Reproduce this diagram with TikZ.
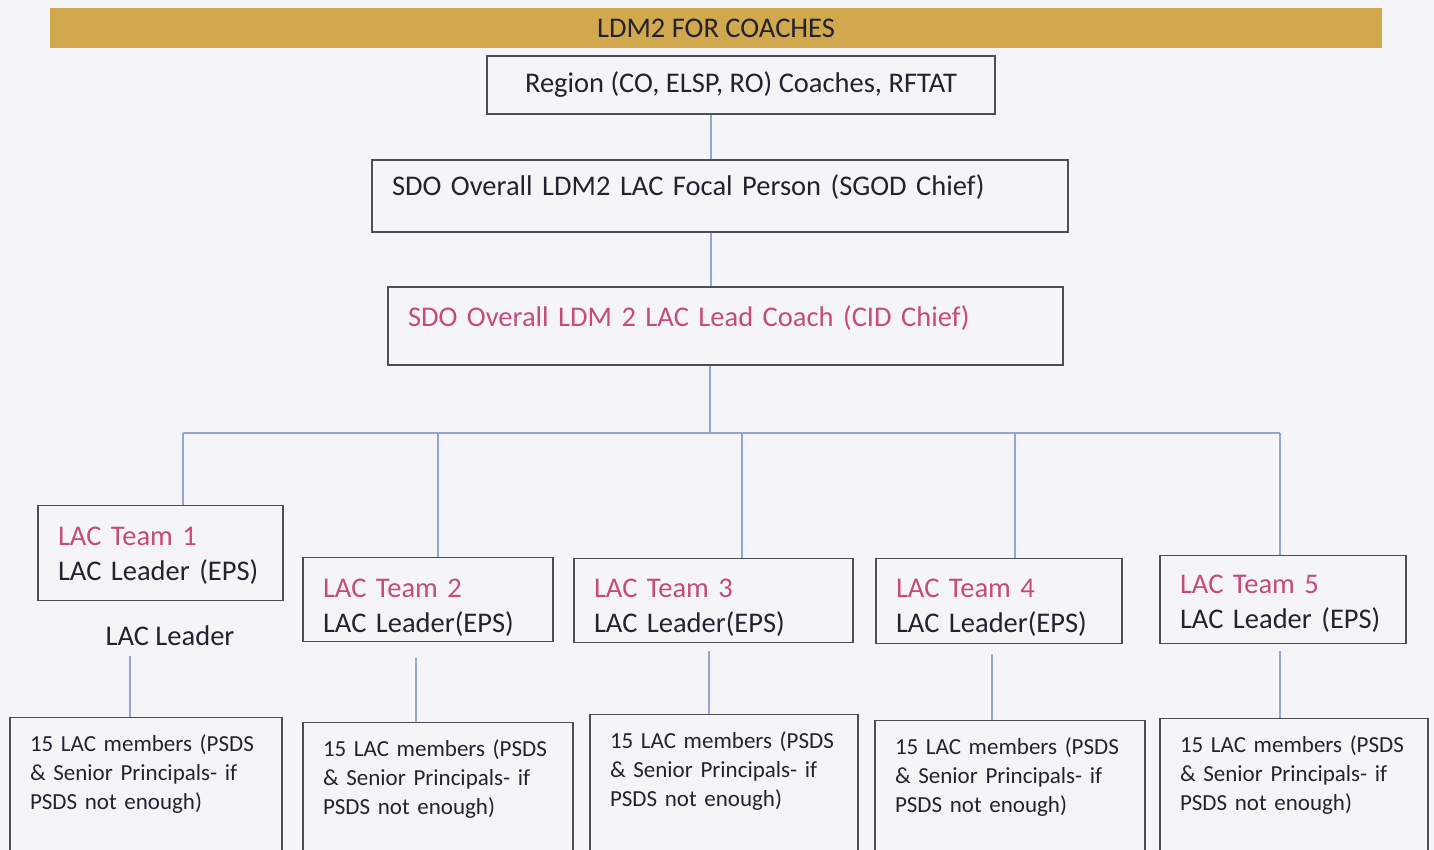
\documentclass[tikz,border=0pt]{standalone}
\usepackage{fontspec}
\setmainfont{Carlito}
\usepackage{tikz}
\definecolor{goldbar}{HTML}{D2A84E}
\definecolor{rosetext}{HTML}{C64A7C}
\definecolor{inktext}{HTML}{23232F}
\definecolor{boxline}{HTML}{4D4D57}
\definecolor{linkblue}{HTML}{97A4D0}
\definecolor{paper}{HTML}{F5F5F8}

\begin{document}
\begin{tikzpicture}[x=1pt, y=-1pt,
  every node/.style={font=\fontsize{28.5}{35}\selectfont, text=inktext},
  box/.style={draw=boxline, line width=1.3pt, inner xsep=20pt},
  wide/.style={box, align=left, inner ysep=0pt, text height=#1, text depth=#1},
  team/.style={box, align=left, anchor=north, inner ysep=0pt},
  member/.style={box, align=left, anchor=north, inner ysep=0pt, text height=34pt, text depth=150pt, font=\fontsize{23}{29}\selectfont},
  link/.style={draw=linkblue, line width=1.1pt}]
  \useasboundingbox (0,0) rectangle (1434,850);
  \clip (0,0) rectangle (1434,850);
  \fill[paper] (0,0) rectangle (1434,850);

  \node[fill=goldbar, minimum width=1332pt, minimum height=40pt, inner sep=0pt] at (716,28) (head) {LDM2 FOR COACHES};

  \node[box, minimum width=508pt, minimum height=58pt] at (741,85) (region) {Region (CO, ELSP, RO) Coaches, RFTAT};
  \node[wide=36pt, text width=656pt] at (720,196) (focal) {SDO Overall LDM2 LAC Focal Person (SGOD Chief)};
  \node[wide=39pt, text width=635pt, text=rosetext] at (725.5,326) (lead) {SDO Overall LDM 2 LAC Lead Coach (CID Chief)};

  \draw[link] ([xshift=-30]region.south) -- ([xshift=-30]region.south |- focal.north);
  \draw[link] ([xshift=-9]focal.south) -- ([xshift=-9]focal.south |- lead.north);

  \node[team, text width=205pt, text height=39.5pt, text depth=55.5pt] at (160.5,505) (t1) {\textcolor{rosetext}{LAC Team 1}\\LAC Leader (EPS)};
  \node[team, text width=210pt, text height=39.5pt, text depth=44.5pt] at (428,557) (t2) {\textcolor{rosetext}{LAC Team 2}\\LAC Leader(EPS)};
  \node[team, text width=239pt, text height=38.5pt, text depth=45.5pt] at (713.5,558) (t3) {\textcolor{rosetext}{LAC Team 3}\\LAC Leader(EPS)};
  \node[team, text width=206pt, text height=38.5pt, text depth=46.5pt] at (999,558) (t4) {\textcolor{rosetext}{LAC Team 4}\\LAC Leader(EPS)};
  \node[team, text width=206pt, text height=37.5pt, text depth=50.5pt] at (1283,555) (t5) {\textcolor{rosetext}{LAC Team 5}\\LAC Leader (EPS)};

  \coordinate (bus) at (710,433);
  \draw[link] ([xshift=-15.5]lead.south) -- (bus);
  \draw[link] ([xshift=22.5]t1.north |- bus) -- ([xshift=-3]t5.north |- bus);
  \draw[link] ([xshift=22.5]t1.north |- bus) -- ([xshift=22.5]t1.north);
  \draw[link] ([xshift=10]t2.north |- bus) -- ([xshift=10]t2.north);
  \draw[link] ([xshift=28.5]t3.north |- bus) -- ([xshift=28.5]t3.north);
  \draw[link] ([xshift=16]t4.north |- bus) -- ([xshift=16]t4.north);
  \draw[link] ([xshift=-3]t5.north |- bus) -- ([xshift=-3]t5.north);

  \node at (170,636) (lead1) {LAC Leader};

  \node[member, text width=232pt] at (146,717) (m1) {15 LAC members (PSDS\\\& Senior Principals- if\\PSDS not enough)};
  \node[member, text width=230pt] at (438,722) (m2) {15 LAC members (PSDS\\\& Senior Principals- if\\PSDS not enough)};
  \node[member, text width=228pt] at (724,714) (m3) {15 LAC members (PSDS\\\& Senior Principals- if\\PSDS not enough)};
  \node[member, text width=230pt] at (1010,720) (m4) {15 LAC members (PSDS\\\& Senior Principals- if\\PSDS not enough)};
  \node[member, text width=228pt] at (1294,718) (m5) {15 LAC members (PSDS\\\& Senior Principals- if\\PSDS not enough)};

  \draw[link, shorten <=6pt] ([xshift=-16]m1.north |- lead1.south) -- ([xshift=-16]m1.north);
  \draw[link, shorten <=16pt] ([xshift=-22]m2.north |- t2.south) -- ([xshift=-22]m2.north);
  \draw[link, shorten <=8pt] ([xshift=-15]m3.north |- t3.south) -- ([xshift=-15]m3.north);
  \draw[link, shorten <=10pt] ([xshift=-18]m4.north |- t4.south) -- ([xshift=-18]m4.north);
  \draw[link, shorten <=7pt] ([xshift=-14]m5.north |- t5.south) -- ([xshift=-14]m5.north);
\end{tikzpicture}
\end{document}
